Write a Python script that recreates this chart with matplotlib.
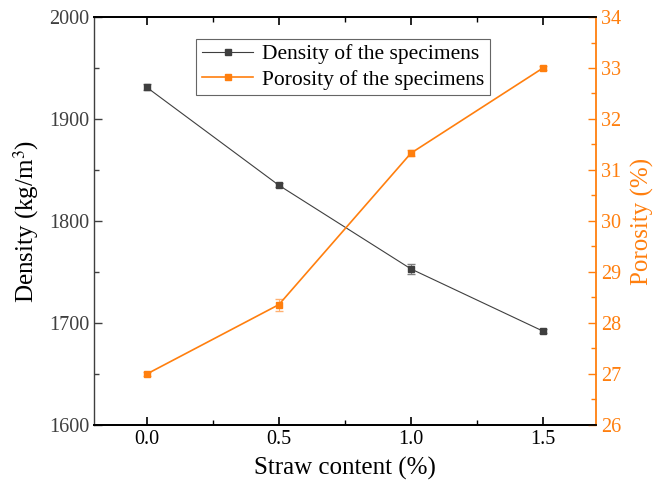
import numpy as np
import matplotlib.pyplot as plt
from matplotlib.ticker import MultipleLocator
from matplotlib.lines import Line2D

# Datos
straw = [0.0, 0.5, 1.0, 1.5]
density = [1931, 1835, 1753, 1692]
density_err = [3, 2, 5, 2]
porosity = [27.0, 28.36, 31.33, 33.0]
porosity_err = [0.04, 0.12, 0.06, 0.04]

plt.rcParams['font.family'] = ['Liberation Serif', 'DejaVu Serif']
plt.rcParams['mathtext.fontset'] = 'stix'

gris = '#3f3f3f'
naranja = '#ff7f0e'

fig = plt.figure(figsize=(6.56, 4.90), dpi=100)
ax = fig.add_axes([0.1433, 0.1327, 0.765, 0.8326])
ax2 = ax.twinx()

ax.errorbar(straw, density, yerr=density_err, color=gris, lw=0.8, marker='s', ms=4.5,
            capsize=3, elinewidth=0.8, ecolor='#7f7f7f')
ax2.errorbar(straw, porosity, yerr=porosity_err, color=naranja, lw=1.2, marker='s', ms=4.5,
             capsize=3, elinewidth=0.8, ecolor='#ffb070')

ax.set_xlim(-0.2, 1.7)
ax.set_ylim(1600, 2000)
ax2.set_ylim(26, 34)

ax.xaxis.set_major_locator(MultipleLocator(0.5))
ax.xaxis.set_minor_locator(MultipleLocator(0.25))
ax.yaxis.set_major_locator(MultipleLocator(100))
ax.yaxis.set_minor_locator(MultipleLocator(50))
ax2.yaxis.set_major_locator(MultipleLocator(1))
ax2.yaxis.set_minor_locator(MultipleLocator(0.5))
ax.xaxis.set_major_formatter(plt.FormatStrFormatter('%.1f'))

ax.tick_params(axis='x', which='both', direction='in', top=True, labelsize=14.5, colors='black')
ax.tick_params(axis='x', which='major', length=6, width=1.2)
ax.tick_params(axis='x', which='minor', length=3.5, width=1.0)
ax.tick_params(axis='y', which='major', direction='in', length=6, width=1.0, labelsize=14.5,
               labelcolor=gris, color=gris)
ax.tick_params(axis='y', which='minor', direction='in', length=3.5, width=1.0, color=gris)
ax2.tick_params(axis='y', which='major', direction='in', length=6, width=1.0, labelsize=14.5,
                colors=naranja)
ax2.tick_params(axis='y', which='minor', direction='in', length=3.5, width=1.0, colors=naranja)

for lado in ['top', 'bottom']:
    ax.spines[lado].set_linewidth(1.3)
    ax2.spines[lado].set_linewidth(1.3)
ax.spines['left'].set_color(gris)
ax.spines['left'].set_linewidth(1.0)
ax2.spines['left'].set_visible(False)
ax2.spines['right'].set_color(naranja)
ax2.spines['right'].set_linewidth(1.3)
ax.spines['right'].set_visible(False)

ax.set_xlabel('Straw content (%)', fontsize=18, labelpad=6)
ax.set_ylabel('Density (kg/m$^3$)', fontsize=18, labelpad=6)
ax2.set_ylabel('Porosity (%)', fontsize=18, color=naranja, labelpad=7)

h1 = Line2D([], [], color=gris, lw=0.8, marker='s', ms=4)
h2 = Line2D([], [], color=naranja, lw=1.2, marker='s', ms=4)
leg = ax.legend([h1, h2], ['Density of the specimens', 'Porosity of the specimens'],
                loc='upper left', bbox_to_anchor=(0.204, 0.946), fontsize=15.5, frameon=True,
                fancybox=False, edgecolor=gris, handlelength=2.4, borderpad=0.25,
                labelspacing=0.25, handletextpad=0.4, borderaxespad=0)
leg.get_frame().set_linewidth(0.8)

fig.savefig('out.png', dpi=100)
